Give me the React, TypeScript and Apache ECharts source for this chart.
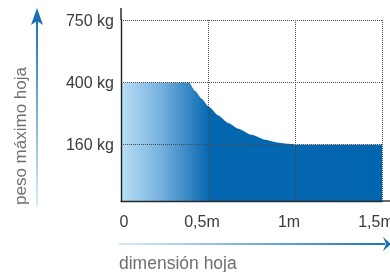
import React, { useEffect, useRef } from "react";
import * as echarts from "echarts";

// Data
const widthsM = [0, 0.391, 0.425, 0.464, 0.502, 0.559, 0.617, 0.674, 0.751, 0.828, 0.904, 0.981, 1.0, 1.5];
const maxWeightKg = [400, 400, 368, 337, 308, 273, 244, 222, 198, 179, 168, 163, 160, 160];
const xTicks = [0, 0.5, 1, 1.5];
const xTickLabels = ["0", "0,5m", "1m", "1,5m"];
const yTickKg = [160, 400, 750];
const yTickLabels = ["160 kg", "400 kg", "750 kg"];

// Non-linear (piecewise) vertical scale of the drawing
const KG_KNOTS = [0, 160, 400, 750];
const POS_KNOTS = [0, 56.3, 118.5, 181];
function kgToPos(kg: number): number {
  for (let i = 0; i < KG_KNOTS.length - 1; i++) {
    if (kg <= KG_KNOTS[i + 1]) {
      const t = (kg - KG_KNOTS[i]) / (KG_KNOTS[i + 1] - KG_KNOTS[i]);
      return POS_KNOTS[i] + t * (POS_KNOTS[i + 1] - POS_KNOTS[i]);
    }
  }
  return POS_KNOTS[POS_KNOTS.length - 1];
}

const FONT = "'Liberation Sans', Arial, sans-serif";

export default function App() {
  const ref = useRef<HTMLDivElement>(null);
  useEffect(() => {
    if (!ref.current) return;
    const chart = echarts.init(ref.current, null, { renderer: "svg" });
    const yPos = yTickKg.map(kgToPos);
    const grid = { left: 121, right: 8, top: 20, bottom: 71, outerBoundsMode: "none", containLabel: false };
    const dotted = { color: "#4a4a4a", width: 1, type: [1, 1] as number[] };
    chart.setOption({
      animation: false,
      grid,
      xAxis: {
        type: "value",
        min: 0,
        max: 1.5,
        interval: 0.5,
        z: 5,
        axisLine: { show: true, lineStyle: { color: "#2a2a2a", width: 1.4 } },
        axisTick: { show: false },
        splitLine: { show: true, lineStyle: dotted },
        axisLabel: {
          margin: 12,
          fontFamily: FONT,
          fontSize: 16,
          color: "#3a3a3a",
          formatter: (v: number) => {
            const i = xTicks.findIndex((t) => Math.abs(t - v) < 1e-6);
            if (i < 0) return "";
            return i === 0 ? `{z|${xTickLabels[i]}}` : `{n|${xTickLabels[i]}}`;
          },
          rich: {
            z: { fontFamily: FONT, fontSize: 16, color: "#3a3a3a", padding: [0, 0, 0, 6] },
            n: { fontFamily: FONT, fontSize: 16, color: "#3a3a3a", padding: [0, 12, 0, 0] },
          },
        },
      },
      yAxis: {
        type: "value",
        min: 0,
        max: POS_KNOTS[POS_KNOTS.length - 1],
        z: 5,
        axisLine: { show: true, lineStyle: { color: "#1e1e1e", width: 1.4 } },
        axisTick: { show: false, customValues: yPos },
        splitLine: { show: false },
        axisLabel: {
          customValues: yPos,
          margin: 7,
          fontFamily: FONT,
          fontSize: 16,
          color: "#3a3a3a",
          formatter: (v: number) => {
            const i = yPos.findIndex((p) => Math.abs(p - v) < 1e-6);
            return i < 0 ? "" : yTickLabels[i];
          },
        },
      },
      series: [
        {
          type: "line",
          data: widthsM.map((w, i) => [w, kgToPos(maxWeightKg[i])]),
          symbol: "none",
          smooth: 0.2,
          smoothMonotone: "x",
          lineStyle: { width: 0 },
          areaStyle: {
            opacity: 1,
            color: new echarts.graphic.LinearGradient(0, 0, 1, 0, [
              { offset: 0, color: "#b9dff5" },
              { offset: 0.15, color: "#78b2e0" },
              { offset: 0.34, color: "#0567b0" },
              { offset: 1, color: "#0266ae" },
            ]),
          },
          markLine: {
            silent: true,
            symbol: "none",
            label: { show: false },
            lineStyle: dotted,
            data: yPos.map((p) => ({ yAxis: p })),
          },
          z: 2,
        },
      ],
      graphic: [
        // axis line extensions
        { type: "line", shape: { x1: 121, y1: 8, x2: 121, y2: 20 }, style: { stroke: "#1e1e1e", lineWidth: 1.4 } },
        { type: "line", shape: { x1: 382, y1: 201, x2: 390, y2: 201 }, style: { stroke: "#2a2a2a", lineWidth: 1.4 } },
        // vertical arrow
        {
          type: "rect",
          shape: { x: 36, y: 20, width: 2, height: 186 },
          style: {
            fill: new echarts.graphic.LinearGradient(0, 1, 0, 0, [
              { offset: 0, color: "#d8ecf8" },
              { offset: 1, color: "#1c74be" },
            ]),
          },
        },
        { type: "polygon", shape: { points: [[37, 8], [43, 25], [37, 21], [31, 25]] }, style: { fill: "#1a6fb8" } },
        // horizontal arrow
        {
          type: "rect",
          shape: { x: 119, y: 243, width: 266, height: 2 },
          style: {
            fill: new echarts.graphic.LinearGradient(0, 0, 1, 0, [
              { offset: 0, color: "#d8ecf8" },
              { offset: 1, color: "#1c74be" },
            ]),
          },
        },
        { type: "polygon", shape: { points: [[391, 244], [383, 237], [386, 244], [383, 251]] }, style: { fill: "#1a6fb8" } },
        {
          type: "text",
          x: 119,
          y: 263,
          style: { text: "dimensión hoja", font: `17.5px ${FONT}`, fill: "#6e6e6e", textAlign: "left", textVerticalAlign: "middle" },
        },
        {
          type: "text",
          x: 20,
          y: 136,
          rotation: Math.PI / 2,
          style: { text: "peso máximo hoja", font: `17px ${FONT}`, fill: "#6e6e6e", textAlign: "center", textVerticalAlign: "middle" },
        },
      ],
    });
    return () => chart.dispose();
  }, []);
  return <div ref={ref} style={{ position: "fixed", left: 0, top: 0, width: 390, height: 272 }} />;
}
